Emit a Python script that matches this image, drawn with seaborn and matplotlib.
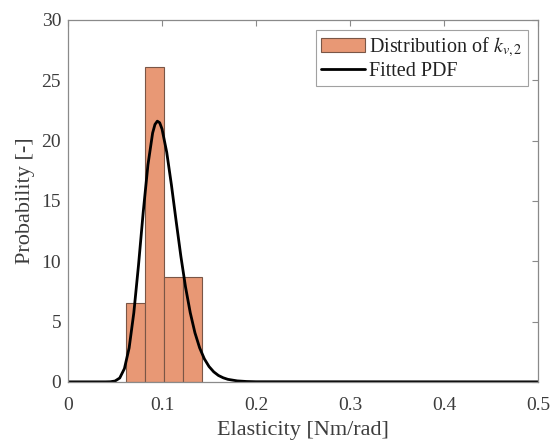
import numpy as np
import pandas as pd
import matplotlib
matplotlib.use("Agg")
import matplotlib.pyplot as plt
import seaborn as sns

# ---- data ----
bin_edges = [0.062, 0.082, 0.102, 0.122, 0.142]
bin_counts = [3, 12, 4, 4]          # gives densities ~6.5, 26.1, 8.7, 8.7

pdf_x = [0.0, 0.040, 0.045, 0.050, 0.055, 0.060, 0.065, 0.070, 0.075, 0.080,
         0.085, 0.090, 0.0925, 0.095, 0.0975, 0.100, 0.105, 0.110, 0.115,
         0.120, 0.125, 0.130, 0.135, 0.140, 0.145, 0.150, 0.155, 0.160,
         0.165, 0.170, 0.180, 0.190, 0.200, 0.500]
pdf_y = [0.0, 0.0, 0.01, 0.07, 0.32, 1.10, 2.81, 5.73, 9.69, 14.08,
         17.98, 20.63, 21.34, 21.61, 21.48, 20.96, 19.03, 16.32, 13.33,
         10.43, 7.86, 5.74, 4.07, 2.82, 1.91, 1.27, 0.83, 0.53,
         0.34, 0.21, 0.08, 0.03, 0.01, 0.0]

x_ticks = [0, 0.1, 0.2, 0.3, 0.4, 0.5]
x_tick_labels = ["0", "0.1", "0.2", "0.3", "0.4", "0.5"]
y_ticks = [0, 5, 10, 15, 20, 25, 30]

hist_label = r"Distribution of $k_{v,2}$"
pdf_label = "Fitted PDF"
# --------------------------------------

sns.set_style("white")
plt.rcParams["font.family"] = ["Liberation Serif", "DejaVu Serif"]
plt.rcParams["mathtext.fontset"] = "stix"

centers = [(a + b) / 2 for a, b in zip(bin_edges[:-1], bin_edges[1:])]
df_hist = pd.DataFrame({"x": centers, "w": bin_counts})
df_pdf = pd.DataFrame({"x": pdf_x, "y": pdf_y})

fig = plt.figure(figsize=(5.53, 4.43), dpi=100)
ax = fig.add_axes([0.123, 0.138, 0.850, 0.817])

sns.histplot(data=df_hist, x="x", weights="w", bins=bin_edges, stat="density",
             color="#E89875", alpha=1.0, edgecolor="#7a5646", linewidth=0.8,
             label=hist_label, ax=ax)
sns.lineplot(data=df_pdf, x="x", y="y", color="black", linewidth=2.0,
             label=pdf_label, ax=ax)

ax.set_xlim(0, 0.5)
ax.set_ylim(0, 30)
ax.set_xticks(x_ticks)
ax.set_xticklabels(x_tick_labels)
ax.set_yticks(y_ticks)

txt_color = "#3c3c3c"
ax.tick_params(axis="both", direction="in", length=4, width=0.8,
               colors="#8a8a8a", labelcolor=txt_color, labelsize=14,
               top=True, right=True, pad=5)
ax.tick_params(axis="x", pad=11)
ax.set_xlabel("Elasticity [Nm/rad]", fontsize=16, color=txt_color, labelpad=5)
ax.set_ylabel("Probability [-]", fontsize=16, color=txt_color, labelpad=5)
for sp in ax.spines.values():
    sp.set_visible(True)
    sp.set_color("#8a8a8a")
    sp.set_linewidth(0.9)

handles, labels = ax.get_legend_handles_labels()
order = [labels.index(hist_label), labels.index(pdf_label)]
leg = ax.legend([handles[i] for i in order], [labels[i] for i in order],
                loc="upper right", fontsize=14.5, frameon=True, fancybox=False,
                edgecolor="#8a8a8a", borderpad=0.25, handlelength=2.2,
                handletextpad=0.2, labelspacing=0.15, borderaxespad=0.5)
leg.get_frame().set_linewidth(0.8)
for t in leg.get_texts():
    t.set_color("#222222")

fig.savefig("out.png", dpi=100)
